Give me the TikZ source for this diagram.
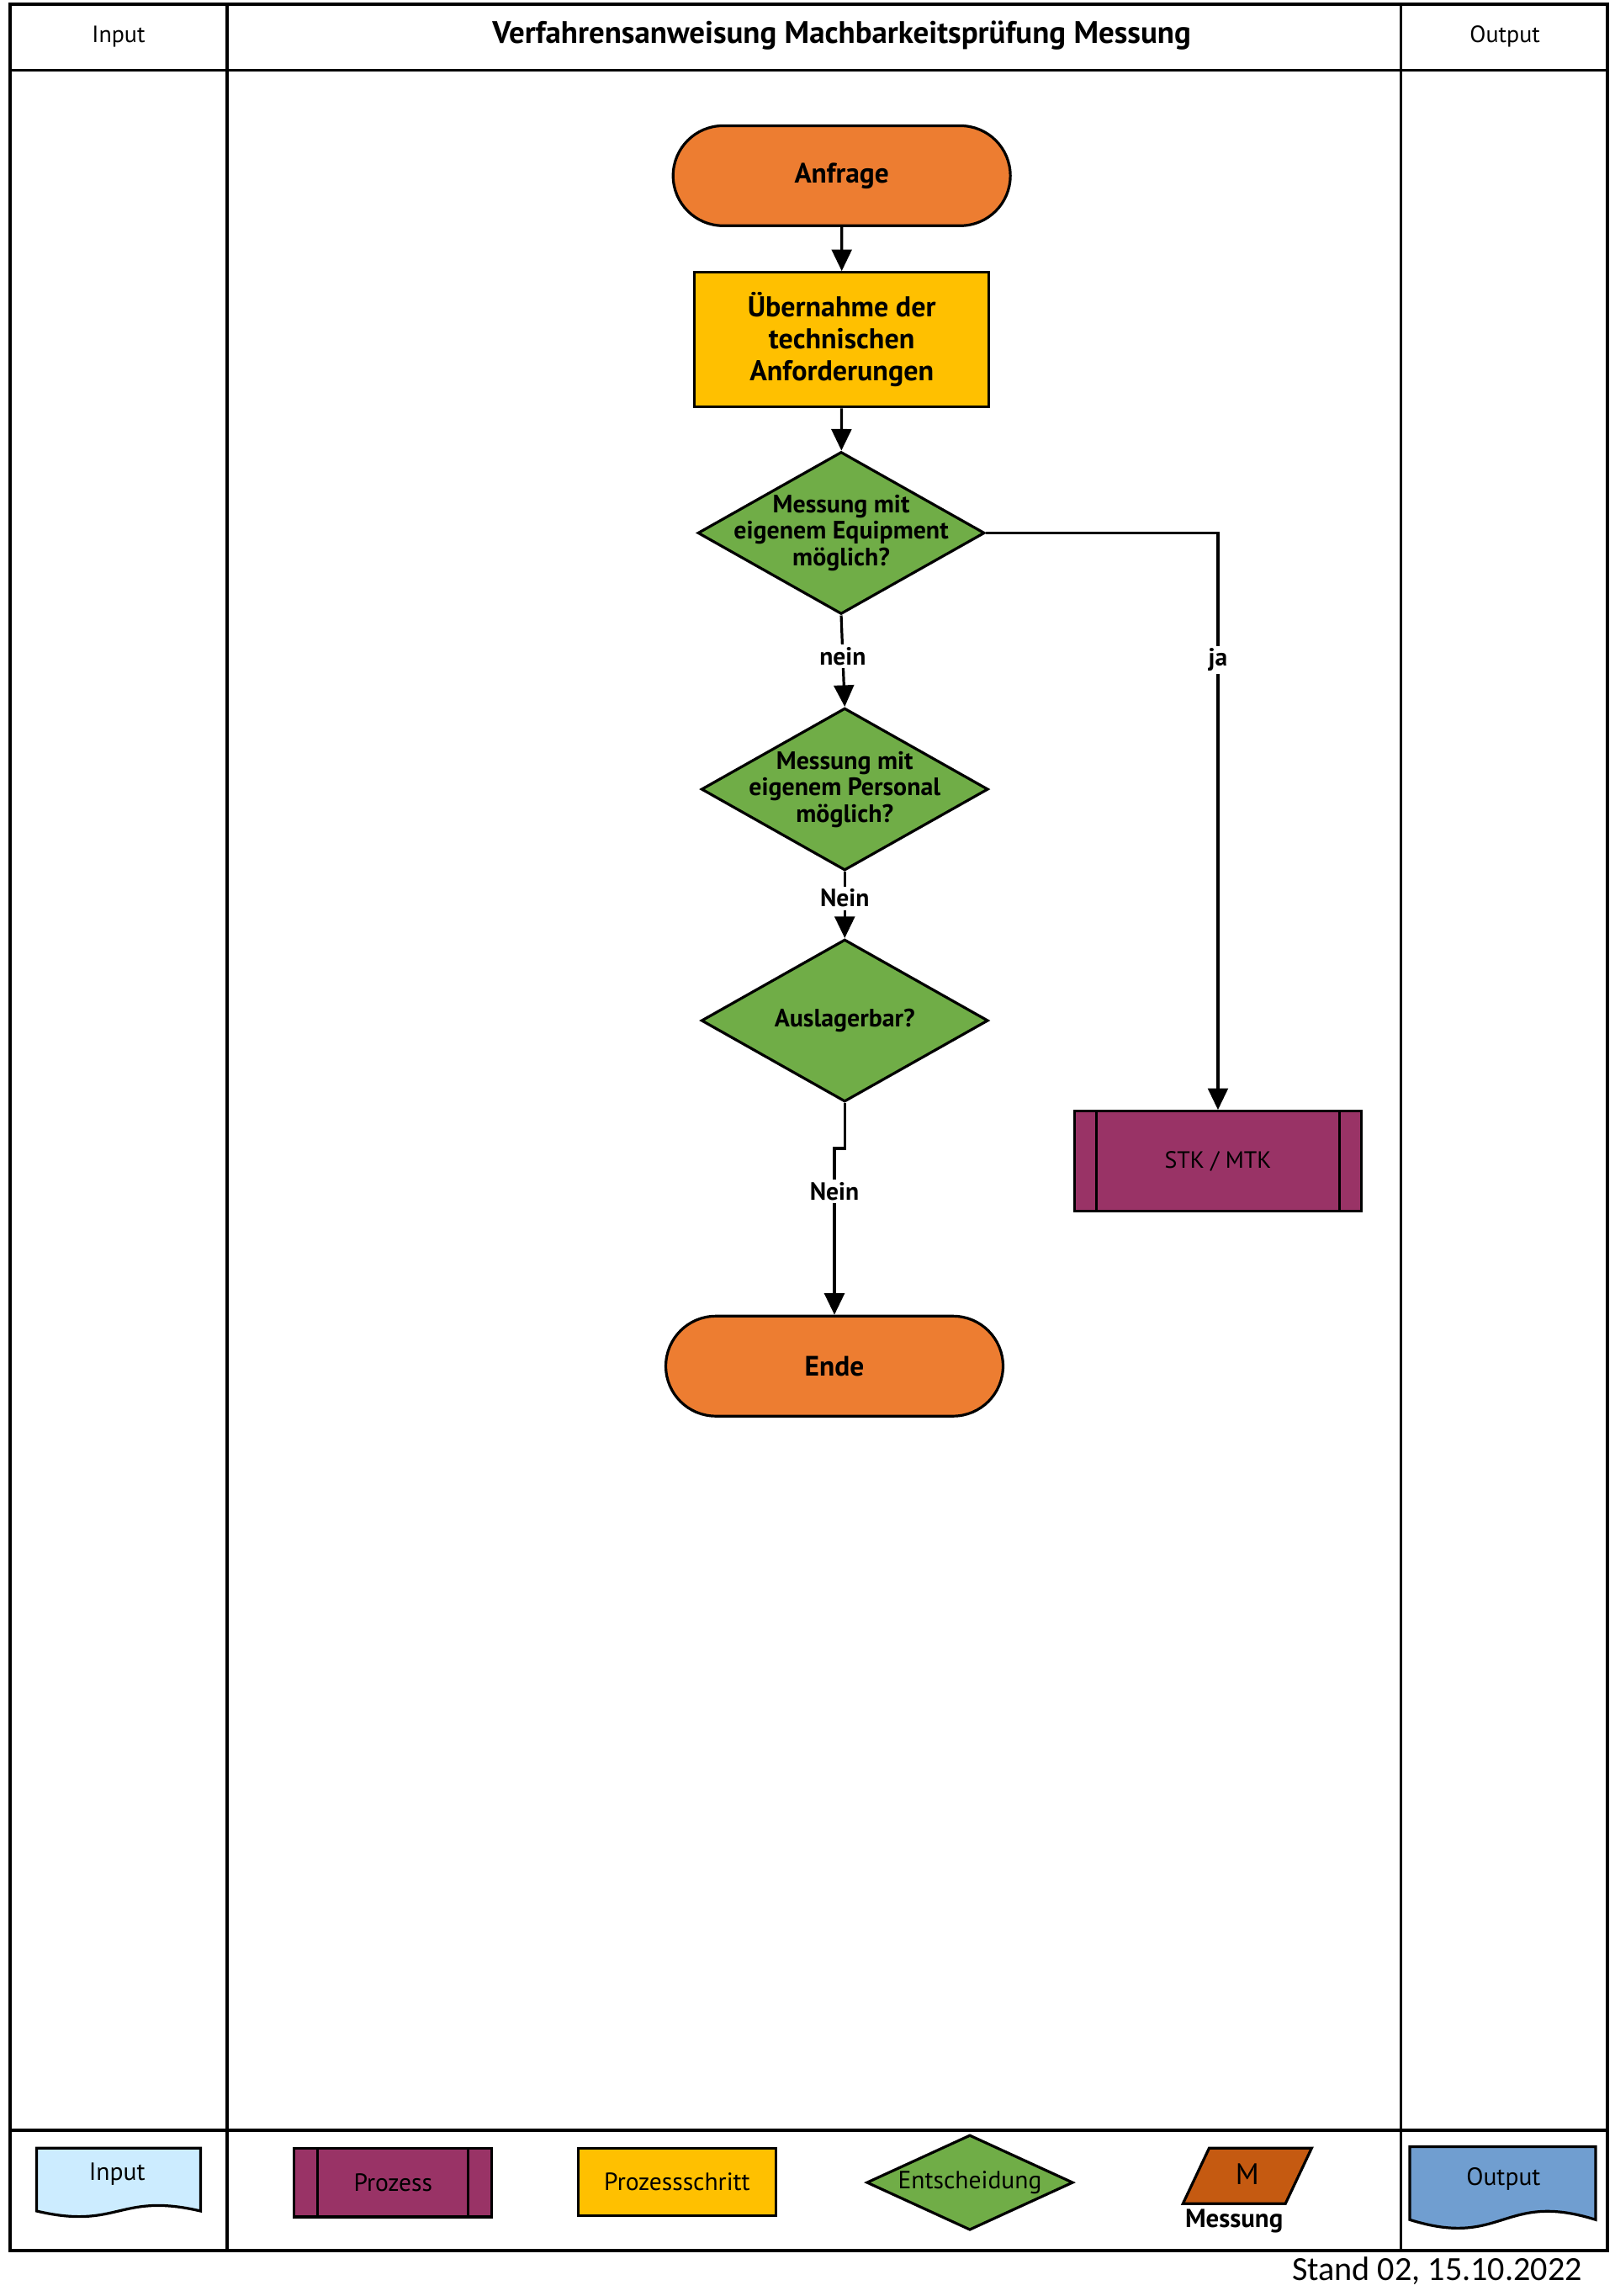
\documentclass[tikz,border=0pt]{standalone}
\usepackage{fontspec}
\setmainfont{PT Sans}
\newfontfamily\standfont{Carlito}
\usetikzlibrary{shapes.geometric,shapes.misc,arrows.meta}
\definecolor{termorange}{RGB}{237,125,49}
\definecolor{stepyellow}{RGB}{255,192,0}
\definecolor{decisiongreen}{RGB}{112,173,71}
\definecolor{processpurple}{RGB}{153,51,102}
\definecolor{measureorange}{RGB}{197,90,17}
\definecolor{inputblue}{RGB}{204,236,255}
\definecolor{outputblue}{RGB}{112,158,208}

\begin{document}
\begin{tikzpicture}[
        terminal/.style={rounded rectangle, draw=black, line width=1pt, minimum width=4.62cm, minimum height=1.3cm, fill=termorange, font=\fontsize{10.4}{12}\selectfont\bfseries},
        stepbox/.style={rectangle, draw=black, line width=1pt, minimum width=3.83cm, minimum height=1.75cm, fill=stepyellow, align=center, font=\fontsize{10.6}{11.8}\selectfont\bfseries},
        decision/.style={diamond, draw=black, line width=1pt, minimum width=3.73cm, minimum height=2.11cm, inner sep=-0.7cm, fill=decisiongreen, align=center, font=\fontsize{9.3}{9.8}\selectfont\bfseries},
        process/.style={rectangle, draw=black, line width=1pt, minimum width=3.73cm, minimum height=1.3cm, fill=processpurple, font=\fontsize{8.7}{10}\selectfont},
        flow/.style={-{Triangle[length=2.8mm,width=2.6mm]}, line width=1pt},
        flowlabel/.style={fill=white, inner sep=1pt, font=\fontsize{9.2}{10}\selectfont\bfseries},
        frame/.style={line width=1.2pt},
        legend/.style={draw=black, line width=1pt, font=\fontsize{9.2}{10}\selectfont}
    ]
    \useasboundingbox (0,0) rectangle (21,-29.854);

    % Frame and columns
    \draw[frame] (0.133,-0.057) rectangle (20.905,-29.263);
    \draw[frame] (0.133,-0.914) -- (20.905,-0.914);
    \draw[frame] (0.133,-27.702) -- (20.905,-27.702);
    \draw[frame] (2.951,-0.057) -- (2.951,-29.263);
    \draw[frame] (18.220,-0.057) -- (18.220,-29.263);

    % Header
    \node[font=\fontsize{8.7}{10}\selectfont] (inhead) at (1.542,-0.476) {Input};
    \node[font=\fontsize{11.5}{13}\selectfont\bfseries] (title) at (10.947,-0.457) {Verfahrensanweisung Machbarkeitsprüfung Messung};
    \node[font=\fontsize{8.7}{10}\selectfont] (outhead) at (19.572,-0.476) {Output};

    % Flow
    \node[terminal] (anfrage) at (10.947,-2.285) {Anfrage};
    \node[stepbox] (uebernahme) at (10.947,-4.417) {Übernahme der\\ technischen\\ Anforderungen};
    \node[decision] (equipment) at (10.94,-6.93) {Messung mit\\ eigenem Equipment\\ möglich?};
    \node[decision] (personal) at (10.986,-10.262) {Messung mit\\ eigenem Personal\\ möglich?};
    \node[decision] (auslagern) at (10.986,-13.270) {Auslagerbar?};
    \node[terminal] (ende) at (10.852,-17.763) {Ende};
    \node[process] (stk) at (15.840,-15.098) {STK / MTK};
    \draw[line width=1pt] ([xshift=0.305cm]stk.north west) -- ([xshift=0.305cm]stk.south west);
    \draw[line width=1pt] ([xshift=-0.305cm]stk.north east) -- ([xshift=-0.305cm]stk.south east);

    % Connectors
    \draw[flow] (anfrage) -- (uebernahme);
    \draw[flow] (uebernahme) -- (equipment);
    \draw[flow] (equipment.south) -- node[flowlabel, pos=0.45] {nein} (personal.north);
    \draw[flow] (personal) -- node[flowlabel, pos=0.4] {Nein} (auslagern);
    \draw[flow] (auslagern.south) -- ++(0,-0.59) -| node[flowlabel, pos=0.63] {Nein} (ende.north);
    \draw[flow] (equipment.east) -| node[flowlabel, pos=0.61] {ja} (stk.north);

    % Legend
    \draw[legend, fill=inputblue] (0.476,-27.930) -- (2.608,-27.930) -- (2.608,-28.749) .. controls (1.542,-28.499) and (1.542,-28.999) .. (0.476,-28.749) -- cycle;
    \node[font=\fontsize{9.2}{10}\selectfont] (inlegend) at (1.523,-28.273) {Input};

    \node[legend, fill=processpurple, minimum width=2.57cm, minimum height=0.895cm] (prozess) at (5.112,-28.378) {Prozess};
    \draw[line width=1pt] ([xshift=0.324cm]prozess.north west) -- ([xshift=0.324cm]prozess.south west);
    \draw[line width=1pt] ([xshift=-0.324cm]prozess.north east) -- ([xshift=-0.324cm]prozess.south east);

    \node[legend, fill=stepyellow, minimum width=2.57cm, minimum height=0.876cm] (schritt) at (8.806,-28.368) {Prozessschritt};

    \node[legend, diamond, fill=decisiongreen, minimum width=2.685cm, minimum height=1.238cm, inner sep=-0.6cm] (entscheidung) at (12.613,-28.378) {Entscheidung};

    \draw[legend, fill=measureorange] (15.384,-28.654) -- (15.726,-27.930) -- (17.059,-27.930) -- (16.717,-28.654) -- cycle;
    \node[font=\fontsize{11}{12}\selectfont] (mlegend) at (16.221,-28.273) {M};
    \node[font=\fontsize{9.6}{10}\selectfont\bfseries] (messung) at (16.050,-28.882) {Messung};

    \draw[legend, fill=outputblue] (18.335,-27.911) -- (20.753,-27.911) -- (20.753,-28.862) .. controls (19.544,-28.482) and (19.544,-29.242) .. (18.335,-28.862) -- cycle;
    \node[font=\fontsize{9.2}{10}\selectfont] (outlegend) at (19.553,-28.330) {Output};

    % Footer
    \node[anchor=east, font=\standfont\fontsize{12.5}{14}\selectfont] (stand) at (20.70,-29.53) {Stand 02, 15.10.2022};
\end{tikzpicture}
\end{document}
